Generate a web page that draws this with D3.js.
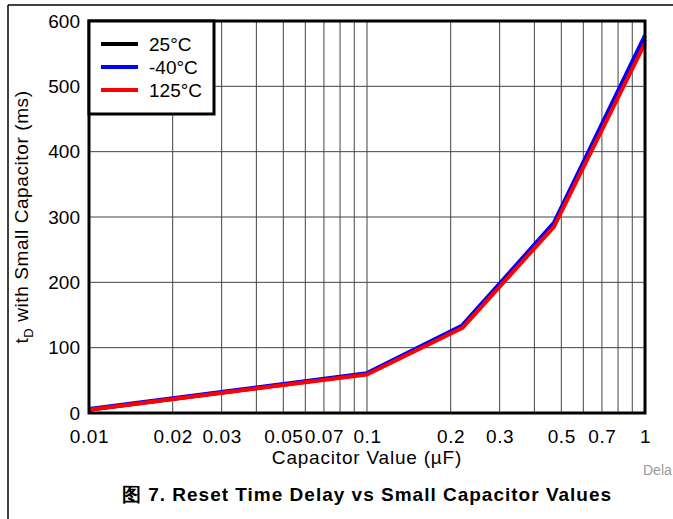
<!DOCTYPE html>
<html>
<head>
<meta charset="utf-8">
<script src="https://cdn.jsdelivr.net/npm/d3@7"></script>
<style>
  body { margin: 0; background: #fff; }
  text { font-family: "Liberation Sans", Arial, sans-serif; }
</style>
</head>
<body>
<div class="container"></div>
<script>
let width = 673
let height = 519

// capacitor values (uF) and delay (ms) per temperature
let capValues = [0.01, 0.1, 0.22, 0.47, 1]
let delay25 = [5, 60, 132, 288, 572]
let delayMinus40 = [6, 61, 134, 291, 578]
let delay125 = [5, 59, 130, 285, 566]

let seriesNames = ["25°C", "-40°C", "125°C"]
let seriesColors = ["#000000", "#0000ff", "#ff0000"]
let seriesValues = [delay25, delayMinus40, delay125]

let xTickValues = [0.01, 0.02, 0.03, 0.05, 0.07, 0.1, 0.2, 0.3, 0.5, 0.7, 1]
let yTickValues = [0, 100, 200, 300, 400, 500, 600]

let pLeft = 89, pRight = 645, pTop = 21, pBottom = 413

let x = d3.scaleLog().domain([0.01, 1]).range([pLeft, pRight])
let y = d3.scaleLinear().domain([0, 600]).range([pBottom, pTop])

let svg = d3.select(".container")
  .append("svg")
  .attr("width", width)
  .attr("height", height)

// figure frame
svg.append("line")
  .attr("x1", 8).attr("y1", 5).attr("x2", width).attr("y2", 5)
  .attr("stroke", "#000").attr("stroke-width", 1.5)
svg.append("line")
  .attr("x1", 8).attr("y1", 5).attr("x2", 8).attr("y2", height)
  .attr("stroke", "#000").attr("stroke-width", 1.5)

// grid
let minorX = []
for (let d = 0.01; d < 1; d *= 10) {
  for (let k = 2; k <= 9; k++) minorX.push(+(d * k).toFixed(4))
}
minorX.push(0.1)
svg.append("g").selectAll("line")
  .data(minorX)
  .enter()
  .append("line")
  .attr("x1", function (d) { return x(d) })
  .attr("x2", function (d) { return x(d) })
  .attr("y1", pTop)
  .attr("y2", pBottom)
  .attr("stroke", "#444")
  .attr("stroke-width", 1)

svg.append("g").selectAll("line")
  .data(yTickValues.slice(1, -1))
  .enter()
  .append("line")
  .attr("x1", pLeft)
  .attr("x2", pRight)
  .attr("y1", function (d) { return y(d) })
  .attr("y2", function (d) { return y(d) })
  .attr("stroke", "#444")
  .attr("stroke-width", 1)

// series lines
let line = d3.line()
  .x(function (d) { return x(d[0]) })
  .y(function (d) { return y(d[1]) })

seriesValues.forEach(function (vals, i) {
  svg.append("path")
    .datum(capValues.map(function (c, j) { return [c, vals[j]] }))
    .attr("d", line)
    .attr("fill", "none")
    .attr("stroke", seriesColors[i])
    .attr("stroke-width", 4)
    .attr("stroke-linejoin", "round")
})

// plot border
svg.append("rect")
  .attr("x", pLeft).attr("y", pTop)
  .attr("width", pRight - pLeft).attr("height", pBottom - pTop)
  .attr("fill", "none")
  .attr("stroke", "#000")
  .attr("stroke-width", 3)

// axes
let xAxis = d3.axisBottom(x)
  .tickValues(xTickValues)
  .tickSize(0)
  .tickPadding(17)
  .tickFormat(function (d) { return String(d) })
let gx = svg.append("g")
  .attr("transform", "translate(0," + pBottom + ")")
  .call(xAxis)
gx.select(".domain").remove()
gx.selectAll("text")
  .attr("font-size", "19px")
  .attr("letter-spacing", "0.6px")
  .attr("font-family", "Liberation Sans, Arial, sans-serif")
  .attr("fill", "#000")

let yAxis = d3.axisLeft(y)
  .tickValues(yTickValues)
  .tickSize(0)
  .tickPadding(9)
let gy = svg.append("g")
  .attr("transform", "translate(" + pLeft + ",0)")
  .call(yAxis)
gy.select(".domain").remove()
gy.selectAll("text")
  .attr("font-size", "19px")
  .attr("font-family", "Liberation Sans, Arial, sans-serif")
  .attr("fill", "#000")

// axis titles
svg.append("text")
  .attr("x", (pLeft + pRight) / 2)
  .attr("y", 464)
  .attr("text-anchor", "middle")
  .attr("font-size", "19px")
  .attr("letter-spacing", "0.8px")
  .text("Capacitor Value (µF)")

let yt = svg.append("text")
  .attr("transform", "translate(28," + ((pTop + pBottom) / 2) + ") rotate(-90)")
  .attr("text-anchor", "middle")
  .attr("font-size", "19px")
  .attr("letter-spacing", "0.6px")
yt.append("tspan").text("t")
yt.append("tspan").attr("font-size", "13px").attr("dy", 5).text("D")
yt.append("tspan").attr("dy", -5).text(" with Small Capacitor (ms)")

// legend
let legend = svg.append("g")
legend.append("rect")
  .attr("x", pLeft).attr("y", pTop)
  .attr("width", 125).attr("height", 93)
  .attr("fill", "#fff")
  .attr("stroke", "#000")
  .attr("stroke-width", 3)
seriesNames.forEach(function (name, i) {
  let ly = 44 + i * 23
  legend.append("line")
    .attr("x1", 101).attr("x2", 138)
    .attr("y1", ly).attr("y2", ly)
    .attr("stroke", seriesColors[i])
    .attr("stroke-width", 4)
  legend.append("text")
    .attr("x", 149).attr("y", ly + 7)
    .attr("font-size", "19px")
    .text(name)
})

// caption
svg.append("text")
  .attr("x", 367)
  .attr("y", 501)
  .attr("text-anchor", "middle")
  .attr("font-size", "19px")
  .attr("letter-spacing", "1px")
  .attr("font-weight", "bold")
  .text("图 7. Reset Time Delay vs Small Capacitor Values")

svg.append("text")
  .attr("x", 643)
  .attr("y", 475)
  .attr("font-size", "14px")
  .attr("fill", "#999")
  .text("Dela")
</script>
</body>
</html>
